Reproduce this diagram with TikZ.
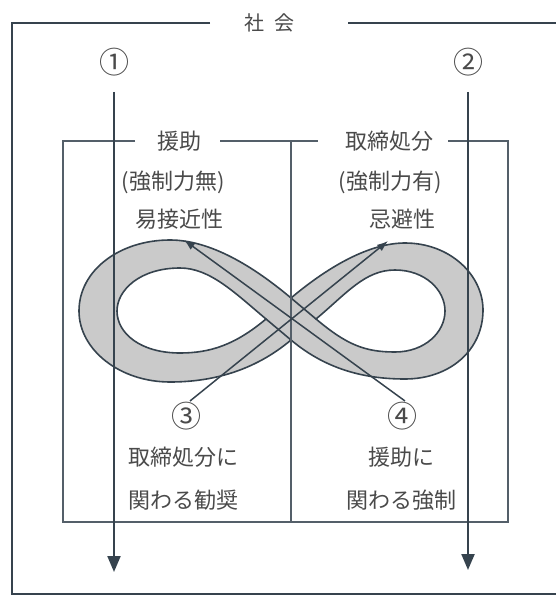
\documentclass[tikz,border=0pt]{standalone}
\usepackage{fontspec}
\setmainfont{Noto Sans CJK JP}
\usetikzlibrary{arrows.meta}
\definecolor{ln}{HTML}{36434E}
\definecolor{tx}{HTML}{4A4A4A}
\definecolor{bandfill}{HTML}{CACACA}
\begin{document}
\begin{tikzpicture}[x=1pt,y=-1pt,
  lbl/.style={text=tx,font=\fontsize{22}{24}\selectfont,inner sep=0pt},
  num/.style={text=tx,font=\fontsize{30}{32}\selectfont,inner sep=0pt},
  frameline/.style={draw=ln,line width=1.8pt},
  boxline/.style={draw=ln!85,line width=1.2pt},
  varrow/.style={draw=ln,line width=2.2pt,-{Triangle[length=16pt,width=13pt]}},
  darrow/.style={draw=ln,line width=1.5pt,-{Latex[length=11pt,width=8pt]}},
  bandedge/.style={draw=ln,line width=1.6pt}]
\useasboundingbox (0,0) rectangle (556,596);

% ---------- outer frame ----------
\node[lbl,font=\fontsize{20}{22}\selectfont] (soc) at (269,23) {社\hspace{10pt}会};
\coordinate (f1) at (210,23);
\coordinate (f2) at (12,23);
\coordinate (f3) at (12,594);
\coordinate (f4) at (556,594);
\coordinate (f5) at (348,23);
\coordinate (f6) at (556,23);
\draw[frameline] (f1) -- (f2) -- (f3) -- (f4);
\draw[frameline] (f5) -- (f6);

% ---------- infinity band ----------
\coordinate (T) at (291,298);
\coordinate (B) at (291,340);
\coordinate (L) at (266,319);
\coordinate (R) at (316,319);
\def\outerpath{(T) .. controls (329,266) and (370,243) .. (405,243)
  .. controls (450,243) and (483,275) .. (483,310)
  .. controls (483,350) and (450,379) .. (405,379)
  .. controls (370,379) and (329,372) .. (B)
  .. controls (253,372) and (210,382) .. (170,382)
  .. controls (120,382) and (79,350) .. (79,311)
  .. controls (79,270) and (120,240) .. (170,240)
  .. controls (210,240) and (253,266) .. (T) -- cycle}
\def\rightpath{(R) .. controls (347,293) and (365,270) .. (395,270)
  .. controls (425,270) and (445,290) .. (445,311)
  .. controls (445,332) and (425,352) .. (395,352)
  .. controls (365,352) and (347,345) .. (R) -- cycle}
\def\leftpath{(L) .. controls (235,293) and (210,268) .. (180,268)
  .. controls (140,268) and (117,290) .. (117,311)
  .. controls (117,333) and (140,353) .. (180,353)
  .. controls (210,353) and (235,345) .. (L) -- cycle}
\fill[bandfill,even odd rule] \outerpath \rightpath \leftpath;
\draw[bandedge] \outerpath;
\draw[bandedge] \rightpath;
\draw[bandedge] \leftpath;
\draw[bandedge] (T) -- (R);
\draw[bandedge] (L) -- (B);

% ---------- inner box ----------
\node[lbl] (h1) at (179,141) {援助};
\node[lbl] (h2) at (389,141) {取締処分};
\coordinate (b1) at (135,141);
\coordinate (b2) at (63,141);
\coordinate (b3) at (63,522);
\coordinate (b4) at (508,522);
\coordinate (b5) at (508,141);
\coordinate (b6) at (448,141);
\coordinate (b7) at (220,141);
\coordinate (b8) at (318,141);
\coordinate (d1) at (291,141);
\coordinate (d2) at (291,522);
\draw[boxline] (b1) -- (b2) -- (b3) -- (b4) -- (b5) -- (b6);
\draw[boxline] (b7) -- (b8);
\draw[boxline] (d1) -- (d2);

% ---------- texts ----------
\node[lbl] (p1) at (173,182) {(強制力無)};
\node[lbl] (p2) at (390,182) {(強制力有)};
\node[lbl] (e1) at (179,219) {易接近性};
\node[lbl] (e2) at (402,219) {忌避性};
\node[lbl] (c1) at (183,457) {取締処分に};
\node[lbl] (c2) at (183,500) {関わる勧奨};
\node[lbl] (c3) at (401,457) {援助に};
\node[lbl] (c4) at (401,500) {関わる強制};

% ---------- numbers ----------
\node[num] (n1) at (114,62) {①};
\node[num] (n2) at (468,62) {②};
\node[num] (n3) at (186,416) {③};
\node[num] (n4) at (402,416) {④};

% ---------- vertical arrows ----------
\coordinate (v1s) at (114,92);
\coordinate (v1e) at (114,572);
\coordinate (v2s) at (468,92);
\coordinate (v2e) at (468,570);
\draw[varrow] (v1s) -- (v1e);
\draw[varrow] (v2s) -- (v2e);

% ---------- diagonal arrows ----------
\coordinate (s3) at (190,401);
\coordinate (t3) at (388,241);
\coordinate (s4) at (405,401);
\coordinate (t4) at (184,240);
\draw[darrow] (s3) -- (t3);
\draw[darrow] (s4) -- (t4);
\end{tikzpicture}
\end{document}
